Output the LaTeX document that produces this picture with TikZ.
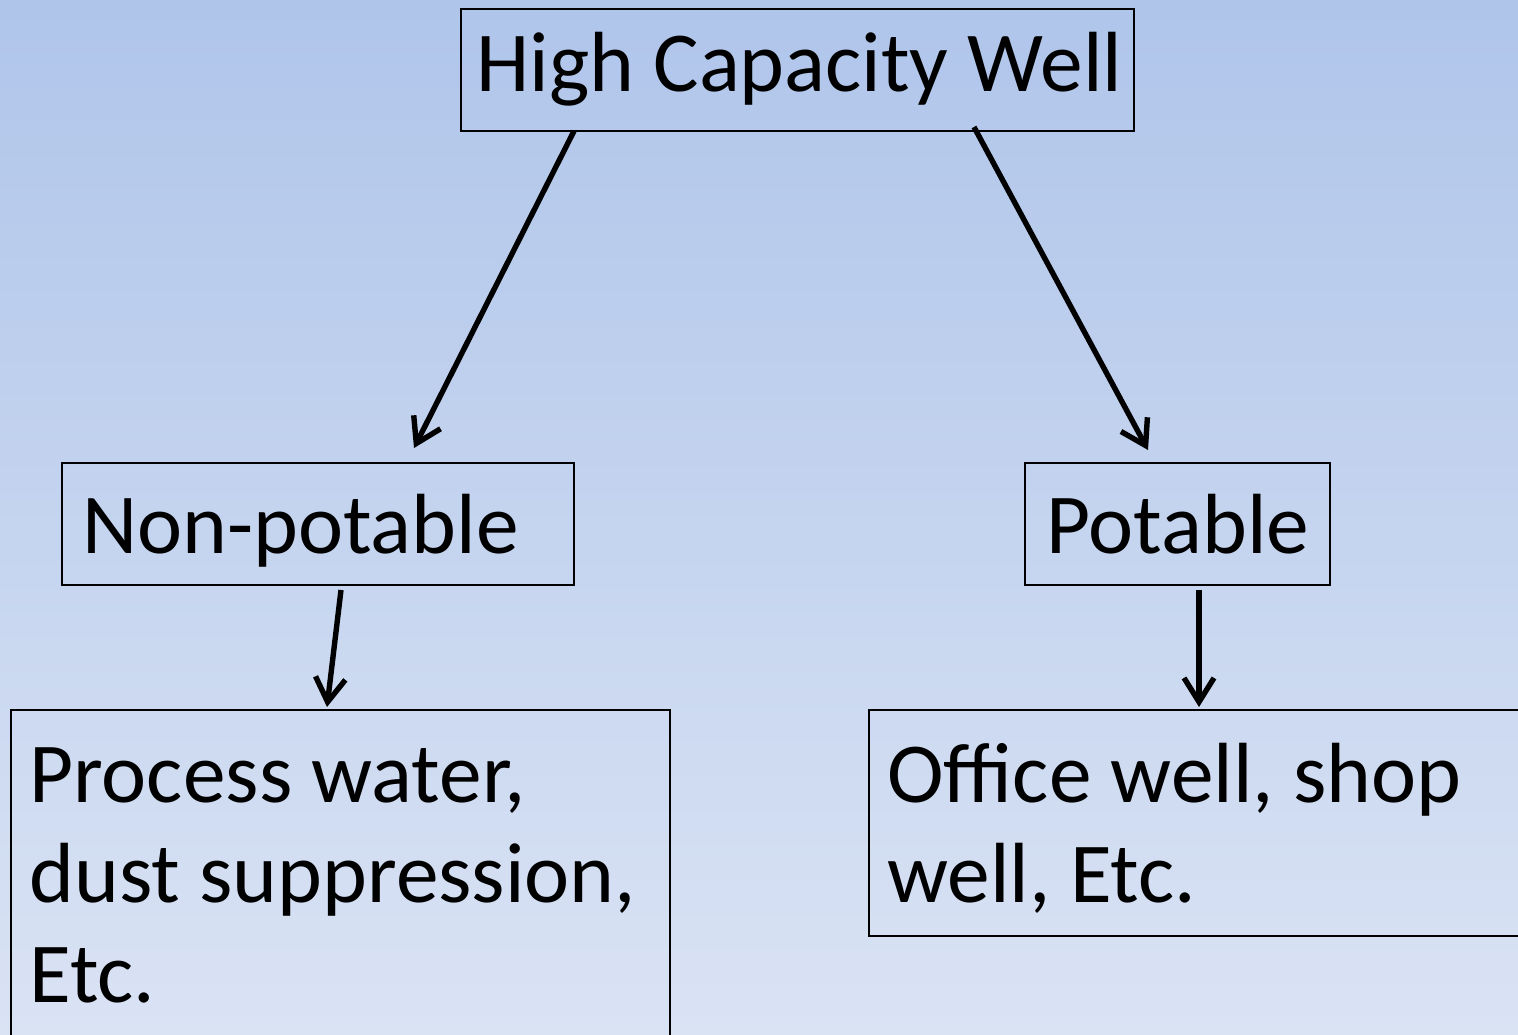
\documentclass[tikz,border=0pt]{standalone}
\usepackage{fontspec}
\setmainfont{Carlito}
\usetikzlibrary{arrows.meta,fit}
\definecolor{bgtop}{HTML}{AFC5EA}
\definecolor{bgbot}{HTML}{DAE3F4}
\tikzset{
  box/.style={draw=black, line width=0.9pt, rectangle, inner sep=0pt},
  txt/.style={inner sep=0pt, anchor=base west, align=left, font=\fontsize{42.7}{50}\selectfont},
  conn/.style={line width=2.7pt, -{Straight Barb[length=12pt,width=15pt,line width=2.7pt]}}
}
\begin{document}
\begin{tikzpicture}[x=0.5pt,y=-0.5pt]
\useasboundingbox (0,0) rectangle (1518,1034);
\shade[top color=bgtop, bottom color=bgbot] (0,0) rectangle (1518,1034);
\clip (0,0) rectangle (1518,1034);
\node[box, fit={(461,9) (1134,131)}] (high) {};
\node[box, fit={(62,463) (574,585)}] (nonpot) {};
\node[box, fit={(1025,463) (1330,585)}] (pot) {};
\node[box, fit={(11,710) (670,1060)}] (proc) {};
\node[box, fit={(869,710) (1540,936)}] (office) {};
\node[txt] (thigh) at (476,91) {High Capacity Well};
\node[txt] (tnon) at (82,553) {Non-potable};
\node[txt] (tpot) at (1046,553) {Potable};
\node[txt] (tproc) at (29,1002) {Process water,\\dust suppression,\\Etc.};
\node[txt] (toff) at (887,902) {Office well, shop\\well, Etc.};
\coordinate (a1s) at (574,131);
\coordinate (a1e) at (414,448);
\coordinate (a2s) at (974,127);
\coordinate (a2e) at (1148,450);
\coordinate (a3s) at (341,590);
\coordinate (a3e) at (327,707);
\coordinate (a4s) at (1199,590);
\coordinate (a4e) at (1199,707);
\draw[conn] (a1s) -- (a1e);
\draw[conn] (a2s) -- (a2e);
\draw[conn] (a3s) -- (a3e);
\draw[conn] (a4s) -- (a4e);
\end{tikzpicture}
\end{document}
